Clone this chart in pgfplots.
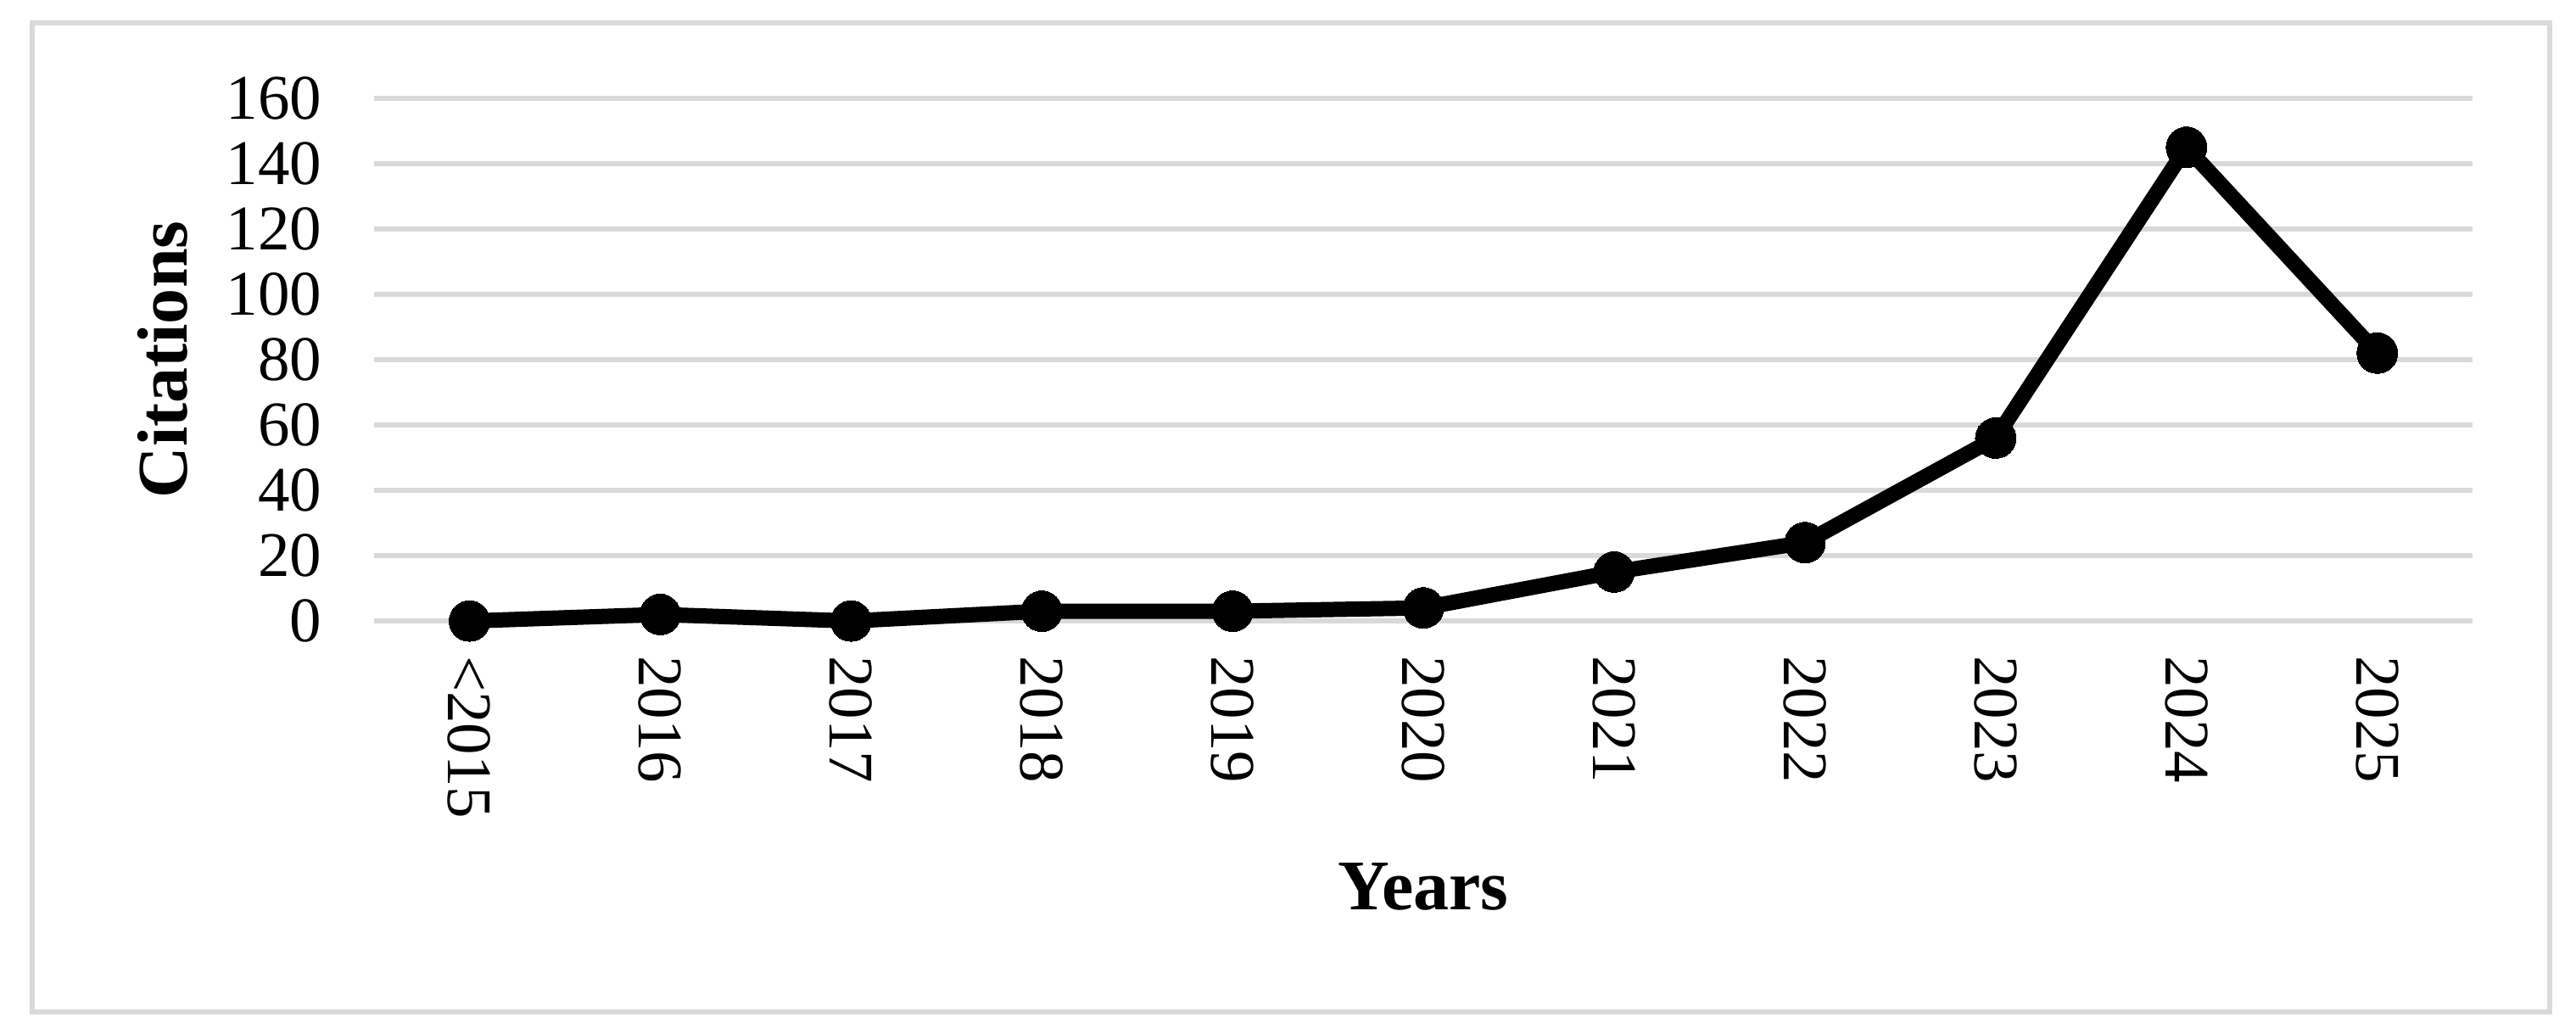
\documentclass[border=0pt]{standalone}
\usepackage{pgfplots}
\pgfplotsset{compat=1.18}
\usepackage{fontspec}
\setmainfont{Liberation Serif}
\definecolor{gridgray}{HTML}{D9D9D9}
\begin{document}
\begin{tikzpicture}
\begin{axis}[
  name=ax,
  scale only axis,
  width=412.3pt, height=102.7pt,
  xmin=-0.5, xmax=10.5,
  ymin=0, ymax=160,
  xtick={0,1,2,3,4,5,6,7,8,9,10},
  xticklabels={{<2015},2016,2017,2018,2019,2020,2021,2022,2023,2024,2025},
  ytick={0,20,40,60,80,100,120,140,160},
  /pgf/number format/assume math mode=true,
  tick label style={font=\fontsize{12.5}{14.5}\selectfont},
  xticklabel style={rotate=-90, anchor=west, xshift=3.3pt},
  yticklabel style={anchor=east, xshift=-6.8pt},
  axis line style={draw=none},
  major tick style={draw=none},
  ymajorgrids,
  grid style={color=gridgray, line width=1.1pt},
  xlabel={Years},
  ylabel={Citations},
  label style={font=\fontsize{14}{16}\selectfont\bfseries},
  xlabel style={at={(axis description cs:0.5,-0.552)}, anchor=base},
  ylabel style={at={(axis description cs:-0.1007,0.5)}, anchor=center},
  clip=false,
]
\addplot[black, line width=3pt, line join=round, mark=*, mark size=4pt,
  mark options={fill=black, draw=black, line width=0pt}]
  coordinates {(0,0) (1,2) (2,0) (3,3) (4,3) (5,4) (6,15) (7,24) (8,56) (9,145) (10,82)};
\end{axis}
\path ([xshift=-73.5pt,yshift=-81pt]ax.south west) rectangle ([xshift=20.3pt,yshift=19.3pt]ax.north east);
\draw[gridgray, line width=1pt] ([xshift=-67.2pt,yshift=-76.8pt]ax.south west) rectangle ([xshift=15.2pt,yshift=14.8pt]ax.north east);
\end{tikzpicture}
\end{document}
